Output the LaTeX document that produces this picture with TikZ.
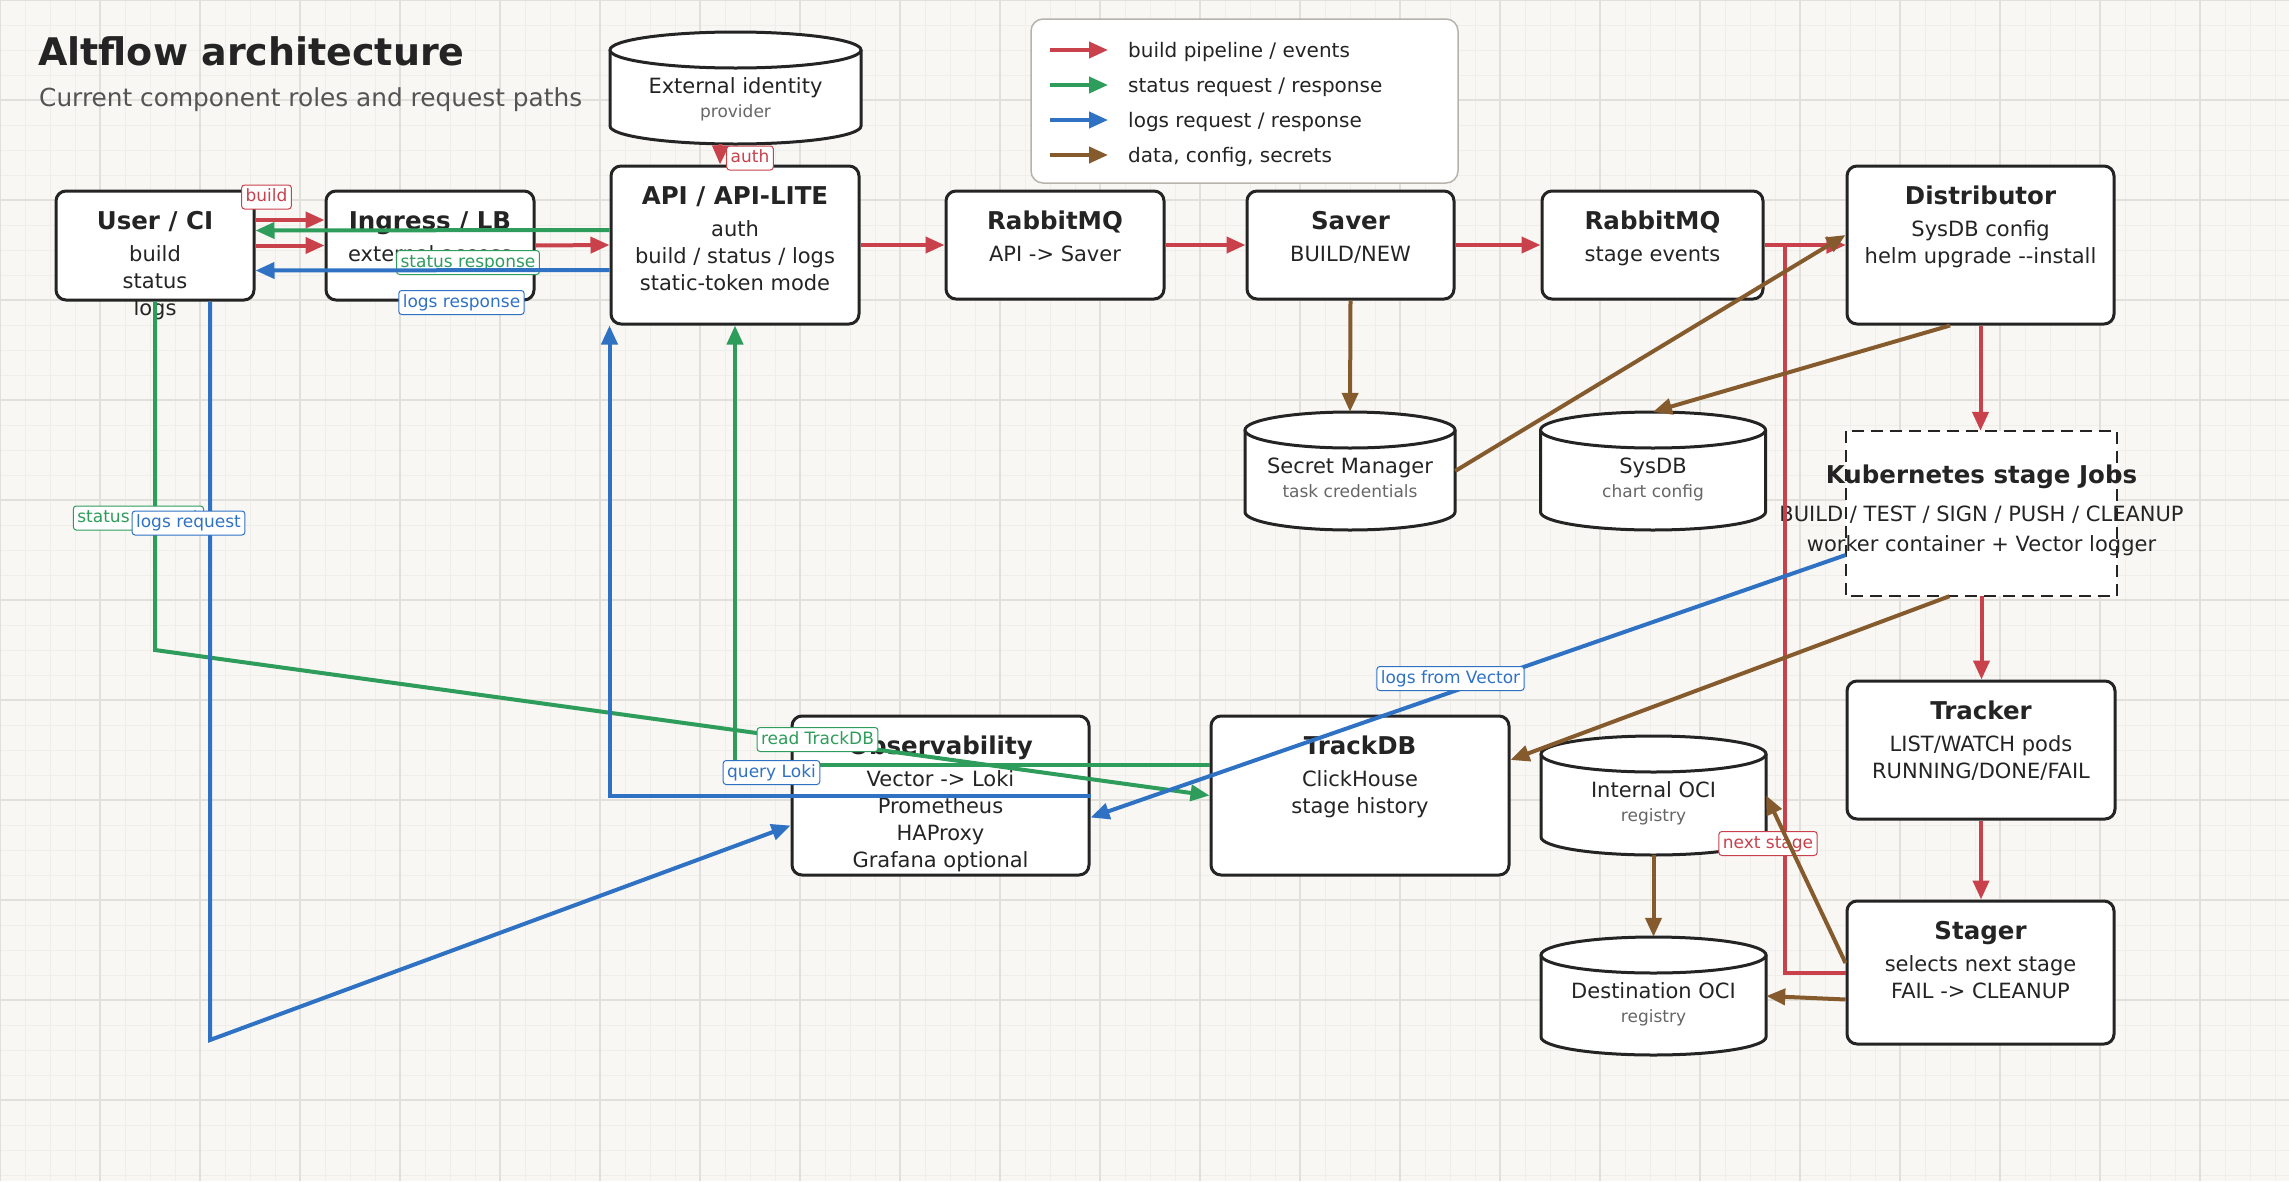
\documentclass[tikz,border=0pt]{standalone}
\usepackage{fontspec}
\setmainfont{DejaVu Sans}
\usetikzlibrary{arrows.meta}

\definecolor{paper}{HTML}{F8F7F4}
\definecolor{gridminor}{HTML}{EFEEEA}
\definecolor{gridmajor}{HTML}{E2E0DA}
\definecolor{ink}{HTML}{242424}
\definecolor{cred}{HTML}{C8414B}
\definecolor{cgreen}{HTML}{2E9C5A}
\definecolor{cblue}{HTML}{2F72C4}
\definecolor{cbrown}{HTML}{855A2D}
\definecolor{legline}{HTML}{B5B3AC}

\tikzset{
  box/.style={draw=ink, line width=3pt, fill=white, rounded corners=10pt, inner sep=0pt},
  ttl/.style={anchor=base, inner sep=0pt, text=ink, font=\fontsize{24.5}{29}\selectfont\bfseries},
  txt/.style={anchor=base, inner sep=0pt, text=ink, font=\fontsize{21}{25}\selectfont},
  sub/.style={anchor=base, inner sep=0pt, text=black!60, font=\fontsize{17}{20}\selectfont},
  flow/.style={line width=4pt, -{Triangle[length=19pt,width=16pt]}},
  buildflow/.style={flow, draw=cred},
  statusflow/.style={flow, draw=cgreen},
  logsflow/.style={flow, draw=cblue},
  dataflow/.style={flow, draw=cbrown},
  tag/.style={fill=white, rounded corners=3pt, line width=1pt, inner xsep=4pt, inner ysep=4pt,
    text height=12.5pt, text depth=3.5pt, font=\fontsize{17}{20}\selectfont},
  rtag/.style={tag, draw=cred, text=cred},
  gtag/.style={tag, draw=cgreen, text=cgreen},
  btag/.style={tag, draw=cblue, text=cblue}
}

\begin{document}
\begin{tikzpicture}[x=1pt, y=-1pt]
\useasboundingbox (0,0) rectangle (2289,1181);
% paper and grid
\fill[paper] (0,0) rectangle (2289,1181);
\foreach \gx in {0,25,...,2275} \draw[gridminor, line width=0.8pt] (\gx,0) -- (\gx,1181);
\foreach \gy in {0,25,...,1175} \draw[gridminor, line width=0.8pt] (0,\gy) -- (2289,\gy);
\foreach \gx in {0,100,...,2200} \draw[gridmajor, line width=1.1pt] (\gx,0) -- (\gx,1181);
\foreach \gy in {0,100,...,1100} \draw[gridmajor, line width=1.1pt] (0,\gy) -- (2289,\gy);

% title
\node[anchor=base west, inner sep=0pt, text=ink, font=\fontsize{38}{44}\selectfont\bfseries] (title) at (38,65) {Altflow architecture};
\node[anchor=base west, inner sep=0pt, text=black!67, font=\fontsize{24.8}{30}\selectfont] (subtitle) at (39,106) {Current component roles and request paths};

% legend
\node[draw=legline, line width=1.5pt, fill=white, rounded corners=12pt, minimum width=427, minimum height=164] (legend) at (1244.5,101) {};
\foreach \lc/\s [count=\i] in {cred/{build pipeline / events}, cgreen/{status request / response}, cblue/{logs request / response}, cbrown/{data, config, secrets}} {
  \node[anchor=base west, inner sep=0pt, text=ink, font=\fontsize{20}{24}\selectfont] (leg\i) at (1128,{22+35*\i}) {\s};
  \draw[flow, draw=\lc] ([xshift=-78pt,yshift=7pt]leg\i.base west) -- ([xshift=-20pt,yshift=7pt]leg\i.base west);
}

% stores
\foreach \n/\cx/\yt/\w/\h/\ca/\cb in {
  idp/735.5/32/251/112/External identity/provider,
  sm/1350/412/210/118/Secret Manager/task credentials,
  sysdb/1653/412/225/118/SysDB/chart config,
  ioci/1653.5/736/225/119/Internal OCI/registry,
  doci/1653.5/937/225/118/Destination OCI/registry}{
  \fill[white] ({\cx-\w/2},{\yt+18}) rectangle ({\cx+\w/2},{\yt+\h-18});
  \fill[white] (\cx,{\yt+\h-18}) ellipse[x radius=\w/2, y radius=18];
  \draw[ink, line width=3pt] ({\cx-\w/2},{\yt+18}) -- ({\cx-\w/2},{\yt+\h-18})
    arc[start angle=180, end angle=0, x radius=\w/2, y radius=18] -- ({\cx+\w/2},{\yt+18});
  \draw[ink, line width=3pt, fill=white] (\cx,{\yt+18}) ellipse[x radius=\w/2, y radius=18];
  \node[inner sep=0pt, minimum width=\w, minimum height=\h] (\n) at (\cx,{\yt+\h/2}) {};
  \node[txt] (\n-t) at ([yshift=-61.5pt]\n.north) {\ca};
  \node[sub] (\n-s) at ([yshift=-85.5pt]\n.north) {\cb};
}

% services
\foreach \n/\cx/\cy/\w/\h/\hd/\ls in {
  user/155/245.5/198/109/{User / CI}/{build,status,logs},
  ingress/430/245.5/208/109/{Ingress / LB}/{external access},
  api/735/245/248/158/{API / API-LITE}/{auth,{build / status / logs},static-token mode},
  rmq1/1055/245/218/108/RabbitMQ/{API -> Saver},
  saver/1350.5/245/207/108/Saver/{{BUILD/NEW}},
  rmq2/1652.5/245/221/108/RabbitMQ/{stage events},
  dist/1980.5/245/267/158/Distributor/{SysDB config,helm upgrade -{}-install},
  tracker/1981/750/268/138/Tracker/{{LIST/WATCH pods},{RUNNING/DONE/FAIL}},
  stager/1980.5/972.5/267/143/Stager/{selects next stage,FAIL -> CLEANUP},
  obs/940.5/795.5/297/159/Observability/{Vector -> Loki,Prometheus,HAProxy,Grafana optional},
  trackdb/1360/795.5/298/159/TrackDB/{ClickHouse,stage history}}{
  \node[box, minimum width=\w, minimum height=\h] (\n) at (\cx,\cy) {};
  \node[ttl] (\n-t) at ([yshift=-39.5pt]\n.north) {\hd};
  \foreach \s [count=\i] in \ls
    \node[txt] (\n-\i) at ([yshift={-44.5pt-27pt*\i}]\n.north) {\s};
}

% stage jobs
\node[fill=white, inner sep=0pt, minimum width=271, minimum height=165] (k8s) at (1981.5,513.5) {};
\node[ttl] (k8s-t) at ([yshift=-52.5pt]k8s.north) {Kubernetes stage Jobs};
\node[txt] (k8s-1) at ([yshift=-90.5pt]k8s.north) {BUILD / TEST / SIGN / PUSH / CLEANUP};
\node[txt] (k8s-2) at ([yshift=-120.5pt]k8s.north) {worker container + Vector logger};
\draw[ink, line width=2.5pt, dash pattern=on 12pt off 7pt] (k8s.north west) rectangle (k8s.south east);

% build pipeline
\draw[buildflow] ([yshift=25.5pt]user.east) -- ([yshift=25.5pt]ingress.west);
\draw[buildflow] (user.east) -- (ingress.west);
\draw[buildflow] (ingress.east) -- (api.west);
\draw[buildflow] (api.east) -- (rmq1.west);
\draw[buildflow] (rmq1.east) -- (saver.west);
\draw[buildflow] (saver.east) -- (rmq2.west);
\draw[buildflow] (rmq2.east) -- (dist.west);
\draw[buildflow] (dist.south) -- (dist.south |- k8s.north);
\draw[buildflow] (k8s.south) -- (k8s.south |- tracker.north);
\draw[buildflow] (tracker.south) -- (tracker.south |- stager.north);
\draw[buildflow] ([xshift=-15pt]idp.south) -- ([xshift=-15pt]api.north);
\node[rtag] (tag-build) at (266.5,197) {build};
\node[rtag] (tag-auth) at (750,158) {auth};
\coordinate (loop) at (1785,245);
\draw[buildflow] (stager.west) -| (loop) -- (dist.west);
\node[rtag] (tag-next) at (1768,843.5) {next stage};

% status and logs
\draw[statusflow] ([yshift=15pt]api.west) -- ([yshift=15pt]user.east);
\node[gtag] (tag-sresp) at (468,262.5) {status response};
\draw[logsflow] ([yshift=-25pt]api.west) -- ([yshift=-25pt]user.east);
\node[btag] (tag-lresp) at (461.5,302.5) {logs response};
\coordinate (sbend) at (155,650);
\draw[statusflow] (user.south) -- (sbend) -- (trackdb.west);
\node[gtag] (tag-sreq) at (138.5,518) {status request};
\coordinate (lbend) at (210,1040);
\draw[logsflow] ([xshift=55pt]user.south) -- (lbend) -- ([yshift=-30pt]obs.west);
\node[btag] (tag-lreq) at (188.5,523) {logs request};
\draw[statusflow] ([yshift=30.5pt]trackdb.west) -| (api.south);
\node[gtag] (tag-read) at (817.5,739.5) {read TrackDB};
\draw[logsflow] (obs.east) -| (api.south west);
\node[btag] (tag-loki) at (771.5,772.5) {query Loki};
\draw[logsflow] ([yshift=-41.5pt]k8s.west) -- ([yshift=-22pt]obs.east);
\node[btag] (tag-vec) at (1450.5,678.5) {logs from Vector};

% data, config, secrets
\draw[dataflow] (saver.south) -- (sm.north);
\draw[dataflow] (sm.east) -- ([yshift=10pt]dist.west);
\draw[dataflow] ([xshift=-30.5pt]dist.south) -- (sysdb.north);
\draw[dataflow] ([xshift=-32pt]k8s.south) -- ([yshift=35.5pt]trackdb.east);
\draw[dataflow] (ioci.south) -- (doci.north);
\draw[dataflow] ([yshift=9.5pt]stager.west) -- (ioci.east);
\draw[dataflow] ([yshift=-27pt]stager.west) -- (doci.east);
\end{tikzpicture}
\end{document}
